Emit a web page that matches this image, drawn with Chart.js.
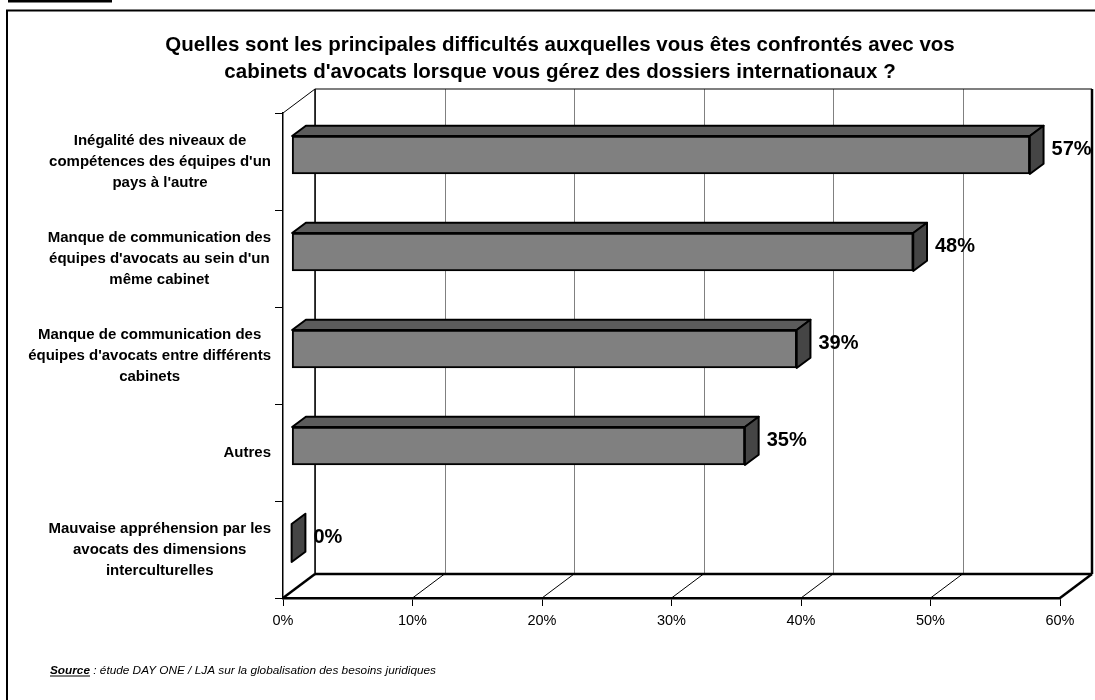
<!DOCTYPE html>
<html>
<head>
<meta charset="utf-8">
<script src="https://cdn.jsdelivr.net/npm/chart.js@4.4.0/dist/chart.umd.min.js"></script>
<style>
  body { margin: 0; background: #fff; }
  canvas { display: block; }
</style>
</head>
<body>
<canvas id="chart" width="1095" height="700"></canvas>
<script>
// --- data ---
const categories = [
    ["Inégalité des niveaux de", "compétences des équipes d'un", "pays à l'autre"],
    ["Manque de communication des", "équipes d'avocats au sein d'un", "même cabinet"],
    ["Manque de communication des", "équipes d'avocats entre différents", "cabinets"],
    ["Autres"],
    ["Mauvaise appréhension par les", "avocats des dimensions", "interculturelles"]
];
const values = [57, 48, 39, 35, 0];
const titleLines = [
    "Quelles sont les principales difficultés auxquelles vous êtes confrontés avec vos",
    "cabinets d'avocats lorsque vous gérez des dossiers internationaux ?"
];
const sourceLabel = 'Source';
const sourceText = ' : étude DAY ONE / LJA sur la globalisation des besoins juridiques';

const FONT = "'Liberation Sans', Arial, sans-serif";
const DEPTH = { dx: 32, dy: -24 };   // floor / wall depth
const BAR_FRONT = 0.27;              // bar front face position inside the depth
const BAR_DEPTH = 0.43;              // bar thickness along the depth

function line(ctx, x1, y1, x2, y2, w, color) {
    ctx.beginPath();
    ctx.lineWidth = w;
    ctx.strokeStyle = color || '#000';
    ctx.moveTo(x1, y1);
    ctx.lineTo(x2, y2);
    ctx.stroke();
}

function poly(ctx, pts, fill) {
    ctx.beginPath();
    ctx.moveTo(pts[0][0], pts[0][1]);
    for (let i = 1; i < pts.length; i++) ctx.lineTo(pts[i][0], pts[i][1]);
    ctx.closePath();
    ctx.fillStyle = fill;
    ctx.fill();
    ctx.lineWidth = 2;
    ctx.strokeStyle = '#000';
    ctx.lineJoin = 'round';
    ctx.stroke();
}

const box3d = {
    id: 'box3d',
    afterDatasetsUpdate(chart) {
        // move the bars into the middle of the 3D depth
        const ox = DEPTH.dx * BAR_FRONT, oy = DEPTH.dy * BAR_FRONT;
        chart.getDatasetMeta(0).data.forEach(el => {
            el.x += ox;
            el.base += ox;
            el.y += oy;
        });
    },
    beforeDatasetsDraw(chart) {
        const ctx = chart.ctx, a = chart.chartArea, xs = chart.scales.x, ys = chart.scales.y;
        const { dx, dy } = DEPTH;
        ctx.save();
        // back wall grid
        xs.ticks.forEach(t => {
            const px = Math.round(xs.getPixelForValue(t.value) + dx) + 0.5;
            line(ctx, px, a.top + dy, px, a.bottom + dy, 1, '#808080');
        });
        line(ctx, a.left + dx, a.top + dy, a.right + dx, a.top + dy, 1.2);
        line(ctx, a.left + dx, a.top + dy, a.left + dx, a.bottom + dy, 1.5);
        line(ctx, a.right + dx, a.top + dy, a.right + dx, a.bottom + dy, 2.5);
        // left wall top edge
        line(ctx, a.left, a.top, a.left + dx, a.top + dy, 1);
        // floor
        xs.ticks.forEach((t, i) => {
            const px = xs.getPixelForValue(t.value);
            const w = (i === 0 || i === xs.ticks.length - 1) ? 2.5 : 1;
            line(ctx, px, a.bottom, px + dx, a.bottom + dy, w);
        });
        line(ctx, a.left + dx, a.bottom + dy, a.right + dx, a.bottom + dy, 2.5);

        // category labels: block right-aligned to the axis, lines centred in the block
        ctx.fillStyle = '#000';
        ctx.font = 'bold 15px ' + FONT;
        ctx.textAlign = 'center';
        ctx.textBaseline = 'middle';
        const right = a.left - 12, lh = 21;
        categories.forEach((lines, i) => {
            const w = Math.max(...lines.map(s => ctx.measureText(s).width));
            const cy = ys.getPixelForValue(i);
            lines.forEach((s, j) => {
                ctx.fillText(s, right - w / 2, cy + (j - (lines.length - 1) / 2) * lh);
            });
        });
        ctx.restore();
    },
    afterDatasetsDraw(chart) {
        const ctx = chart.ctx;
        const bdx = DEPTH.dx * BAR_DEPTH, bdy = DEPTH.dy * BAR_DEPTH;
        ctx.save();
        chart.getDatasetMeta(0).data.forEach((el, i) => {
            const x0 = el.base, x1 = el.x;
            const yt = el.y - el.height / 2, yb = el.y + el.height / 2;
            if (x1 > x0) {
                poly(ctx, [[x0, yt], [x0 + bdx, yt + bdy], [x1 + bdx, yt + bdy], [x1, yt]], '#5c5c5c');
            }
            poly(ctx, [[x1, yt], [x1 + bdx, yt + bdy], [x1 + bdx, yb + bdy], [x1, yb]], '#454545');
            ctx.fillStyle = '#000';
            ctx.font = 'bold 20px ' + FONT;
            ctx.textAlign = 'left';
            ctx.textBaseline = 'middle';
            ctx.fillText(values[i] + '%', x1 + bdx + 8, (yt + bdy + yb) / 2);
        });
        ctx.restore();
    },
    afterDraw(chart) {
        const ctx = chart.ctx;
        ctx.save();
        // outer frame and the cut caption line at the top
        ctx.lineWidth = 2;
        ctx.strokeStyle = '#000';
        ctx.strokeRect(7, 10.5, 1100, 700);
        ctx.fillStyle = '#000';
        ctx.fillRect(8, 0, 104, 2.5);
        // title, centred on the frame
        ctx.textAlign = 'center';
        ctx.textBaseline = 'middle';
        ctx.font = 'bold 20.5px ' + FONT;
        titleLines.forEach((t, i) => ctx.fillText(t, 560, 45 + i * 27));
        // source note
        ctx.textBaseline = 'alphabetic';
        ctx.textAlign = 'left';
        ctx.font = 'italic bold 11.8px ' + FONT;
        const w = ctx.measureText(sourceLabel).width;
        ctx.fillText(sourceLabel, 50, 674);
        line(ctx, 50, 676, 50 + w, 676, 1.2);
        ctx.font = 'italic 11.8px ' + FONT;
        ctx.fillText(sourceText, 50 + w, 674);
        ctx.restore();
    }
};

new Chart(document.getElementById('chart'), {
    type: 'bar',
    data: {
        labels: categories,
        datasets: [{
            data: values,
            backgroundColor: '#808080',
            borderColor: '#000',
            borderWidth: 2,
            borderSkipped: false,
            barThickness: 38
        }]
    },
    options: {
        indexAxis: 'y',
        responsive: false,
        animation: false,
        events: [],
        layout: { padding: { top: 113, right: 35, bottom: 0, left: 0 } },
        plugins: {
            legend: { display: false },
            tooltip: { enabled: false },
            title: { display: false }
        },
        scales: {
            x: {
                min: 0,
                max: 60,
                ticks: {
                    stepSize: 10,
                    color: '#000',
                    padding: 6,
                    font: { family: FONT, size: 14.5 },
                    callback: v => v + '%'
                },
                grid: { drawOnChartArea: false, tickLength: 8, color: '#000', tickWidth: 1 },
                border: { color: '#000', width: 2.5 },
                afterFit: s => { s.height = 102; }
            },
            y: {
                ticks: { display: false },
                grid: { drawOnChartArea: false, tickLength: 8, color: '#000', tickWidth: 1 },
                border: { color: '#000', width: 1.5 },
                afterFit: s => { s.width = 283; }
            }
        }
    },
    plugins: [box3d]
});
</script>
</body>
</html>
